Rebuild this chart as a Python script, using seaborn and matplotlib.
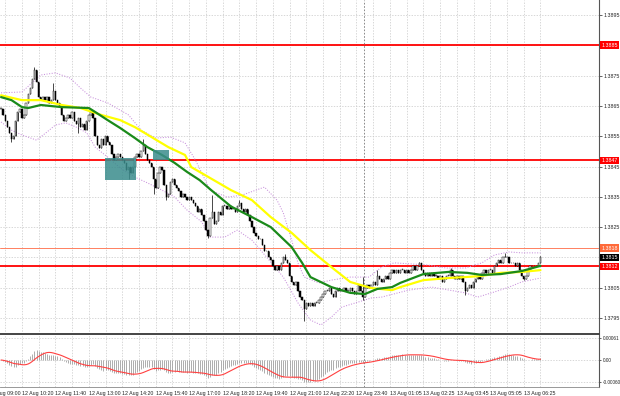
import matplotlib
matplotlib.use('Agg')
import matplotlib.pyplot as plt
import matplotlib.transforms as mtransforms
import numpy as np
import pandas as pd
import seaborn as sns

# M5 closes, in pips above 1.3800 (12 Aug 09:30 -> 13 Aug 07:05)
close_pips = [
    64, 62, 60, 58, 56, 54, 55, 60, 63, 64,
    61, 62, 66, 69, 71, 74, 77, 73, 68, 67,
    68, 67, 68, 66, 67, 70, 67, 66, 65, 62,
    60, 61, 62, 61, 63, 60, 59, 61, 58, 59,
    57, 60, 62, 63, 61, 55, 52, 51, 54, 52,
    55, 53, 52, 49, 47, 48, 49, 48, 47, 46,
    44, 45, 43, 45, 48, 49, 48, 50, 52, 49,
    47, 46, 45, 41, 38, 43, 45, 44, 39, 35,
    36, 40, 41, 39, 38, 37, 35, 36, 35, 34,
    35, 34, 33, 32, 30, 31, 29, 27, 24, 22,
    28, 30, 26, 27, 30, 29, 32, 32, 31, 32,
    31, 31, 30, 32, 33, 31, 30, 31, 29, 27,
    25, 23, 22, 21, 21, 19, 17, 17, 15, 14,
    12, 11, 12, 11, 13, 15, 14, 13, 9, 7,
    6, 7, 4, 2, 1, -2, 0, -1, 0, -1,
    0, 0, 1, 2, 3, 4, 4, 5, 3, 2,
    4, 5, 4, 4, 5, 4, 4, 5, 4, 3,
    4, 6, 4, 2, 5, 6, 5, 6, 7, 6,
    9, 8, 7, 8, 9, 8, 10, 11, 10, 11,
    10, 11, 11, 10, 11, 10, 11, 12, 11, 12,
    13, 11, 10, 9, 10, 9, 10, 9, 9, 8,
    9, 7, 8, 9, 9, 11, 9, 8, 9, 8,
    9, 7, 4, 5, 6, 5, 7, 8, 9, 8,
    10, 11, 10, 11, 11, 10, 12, 13, 14, 13,
    15, 15, 15, 13, 13, 13, 12, 13, 11, 9,
    8, 9, 11, 12, 12, 12, 12, 13, 15,
]
wick_high = {16: 78, 25: 72.5, 68: 54, 101: 35.5, 114: 34, 136: 16, 173: 8.5,
             180: 11, 200: 13.5, 215: 11.5, 241: 16.5, 258: 15.5}
wick_low = {5: 53, 37: 56, 61: 41, 73: 36, 79: 34, 99: 21.5, 145: -6, 173: 1,
            222: 2.5, 250: 7.5}

# moving averages / bands (candle index, pips)
green_idx = [0, 5, 10, 13, 19, 29, 42, 45, 51, 57, 64, 70, 77, 83, 89, 95, 100, 110,
             120, 129, 139, 144, 148, 158, 167, 174, 180, 187, 191, 202, 214, 223,
             230, 239, 249, 258]
green_pips = [67.9, 66.9, 64.6, 64.3, 65.3, 64.6, 64.3, 63.0, 60.3, 57.7, 54.4, 51.4,
              48.8, 46.2, 43.2, 40.5, 37.5, 31.8, 28.3, 25.0, 18.4, 13.2, 8.5, 5.2,
              3.3, 2.9, 4.6, 5.2, 6.6, 9.5, 10.2, 9.9, 9.2, 9.5, 10.5, 12.2]
yellow_idx = [0, 10, 19, 29, 38, 48, 57, 64, 72, 80, 88, 91, 100, 110, 120, 129, 139,
              148, 158, 167, 177, 187, 191, 202, 214, 222, 230, 239, 249, 258]
yellow_pips = [68.5, 66.9, 66.9, 65.3, 64.3, 62.0, 60.3, 58.0, 54.7, 51.4, 48.8, 44.8,
               41.2, 37.2, 33.9, 28.3, 23.1, 17.4, 11.8, 6.9, 4.9, 4.2, 5.2, 7.5,
               8.2, 8.5, 8.9, 9.9, 10.2, 10.8]
bb_up_idx = [0, 10, 19, 26, 33, 38, 43, 51, 61, 67, 74, 81, 88, 93, 100, 108, 115,
             126, 132, 135, 139, 142, 145, 152, 158, 167, 176, 182, 188, 204, 213,
             222, 230, 236, 243, 249, 258]
bb_up_pips = [69.3, 69.6, 75.2, 75.9, 74.2, 70.9, 67.9, 66.0, 62.0, 57.0, 54.4, 54.7,
              52.8, 47.1, 37.2, 34.9, 35.5, 38.2, 33.9, 29.7, 20.7, 13.2, 8.5, 6.6,
              7.5, 8.5, 8.5, 11.8, 13.2, 12.5, 11.5, 11.5, 13.2, 15.8, 16.8, 16.5,
              16.5]
bb_lo_idx = [0, 5, 10, 17, 22, 26, 31, 36, 41, 45, 51, 57, 64, 70, 77, 83, 89, 96,
             100, 107, 113, 120, 127, 135, 142, 148, 153, 158, 163, 171, 177, 182,
             195, 206, 222, 228, 236, 243, 249, 258]
bb_lo_pips = [59.7, 57.0, 55.4, 53.7, 56.4, 58.7, 59.4, 58.0, 56.1, 51.4, 48.1, 44.5,
              41.5, 39.6, 37.2, 34.9, 30.6, 26.7, 21.7, 21.7, 24.0, 20.7, 15.1, 8.5,
              0.0, -5.7, -7.3, -4.7, -1.4, 0.3, 1.6, 1.9, 4.2, 5.2, 3.3, 1.9, 3.6,
              5.2, 6.9, 8.2]

red_levels = [1.3885, 1.3847, 1.3812]
orange_level = 1.3818
current_price = 1.3815
zones = [(50, 64, 1.38405, 1.38478), (73, 80, 1.38471, 1.38504)]
day_break = 173.5

time_ticks = [-6, 10, 26, 42, 58, 74, 90, 106, 122, 138, 154, 170, 186, 202, 218, 234, 250]
time_labels = ["12 Aug 09:00", "12 Aug 10:20", "12 Aug 11:40", "12 Aug 13:00",
               "12 Aug 14:20", "12 Aug 15:40", "12 Aug 17:00", "12 Aug 18:20",
               "12 Aug 19:40", "12 Aug 21:00", "12 Aug 22:20", "12 Aug 23:40",
               "13 Aug 01:05", "13 Aug 02:25", "13 Aug 03:45", "13 Aug 05:05",
               "13 Aug 06:25"]

sns.set_style('white')
plt.rcParams['font.family'] = ['Liberation Sans Narrow', 'Liberation Sans', 'DejaVu Sans']
FS = 3.8

to_price = lambda v: 1.38 + np.asarray(v, dtype=float) / 10000.0

df = pd.DataFrame({'close': to_price(close_pips)})
df['idx'] = np.arange(len(df))
df['open'] = df['close'].shift(1).fillna(df['close'])
df['high'] = df[['open', 'close']].max(axis=1)
df['low'] = df[['open', 'close']].min(axis=1)
for k, v in wick_high.items():
    df.loc[k, 'high'] = max(df.loc[k, 'high'], float(to_price(v)))
for k, v in wick_low.items():
    df.loc[k, 'low'] = min(df.loc[k, 'low'], float(to_price(v)))

ema12 = df['close'].ewm(span=12, adjust=False).mean()
ema26 = df['close'].ewm(span=26, adjust=False).mean()
df['macd'] = ema12 - ema26
df['signal'] = df['macd'].rolling(9, min_periods=1).mean()

fig = plt.figure(figsize=(6.2, 3.96), dpi=100)
ax = fig.add_axes([0, 1 - 334 / 396, 599 / 620, 334 / 396])
axm = fig.add_axes([0, 9 / 396, 599 / 620, 52 / 396])

xlim = (-0.5, 286.0)
main_ylim = (1.378972, 1.389995)
macd_ylim = (-0.000736, 0.000681)
grid_kw = dict(color='#c8c8c8', linestyle=(0, (2, 2)), linewidth=0.5)
band_col = '#c890dc'

# ---- main panel
for lv in red_levels:
    ax.axhline(lv, color='#ff0000', lw=1.3, zorder=2)
ax.axhline(orange_level, color='#ff8060', lw=0.7, zorder=2)
ax.axvline(day_break, color='#777777', lw=0.6, linestyle=(0, (2, 2)), zorder=2)

sns.lineplot(x=bb_up_idx, y=to_price(bb_up_pips), ax=ax, color=band_col,
             lw=0.75, linestyle=(0, (1, 1.5)), zorder=3)
sns.lineplot(x=bb_lo_idx, y=to_price(bb_lo_pips), ax=ax, color=band_col,
             lw=0.75, linestyle=(0, (1, 1.5)), zorder=3)

# candles
ax.vlines(df['idx'], df['low'], df['high'], color='black', lw=0.5, zorder=4)
body_h = (df['close'] - df['open']).abs().clip(lower=0.000015)
body_b = df[['open', 'close']].min(axis=1)
up = df['close'] >= df['open']
ax.bar(df['idx'][up], body_h[up], bottom=body_b[up], width=0.65, color='white',
       edgecolor='black', linewidth=0.35, zorder=5)
ax.bar(df['idx'][~up], body_h[~up], bottom=body_b[~up], width=0.65, color='black',
       edgecolor='black', linewidth=0.35, zorder=5)

sns.lineplot(x=yellow_idx, y=to_price(yellow_pips), ax=ax, color='#ffff00', lw=1.6, zorder=6)
sns.lineplot(x=green_idx, y=to_price(green_pips), ax=ax, color='#1a8a1a', lw=1.6, zorder=7)

for x0, x1, lo, hi in zones:
    ax.add_patch(plt.Rectangle((x0 - 0.5, lo), x1 - x0 + 1, hi - lo,
                               facecolor='#3a8c8c', alpha=0.85, edgecolor='none', zorder=8))

yt = np.round(np.arange(1.3795, 1.38951, 0.001), 4)
ax.set_yticks(yt)
# labels hidden under the coloured price boxes are left blank
hidden = [round(v, 4) for v in red_levels + [current_price]]
ax.set_yticklabels(['' if round(v, 4) in hidden else f'{v:.4f}' for v in yt])
ax.yaxis.tick_right()
ax.tick_params(axis='y', labelsize=FS, length=2, width=0.5, pad=1.5, colors='#222222')
ax.set_xticks(time_ticks)
ax.set_xticks([t + 8 for t in time_ticks], minor=True)
ax.tick_params(axis='x', which='both', length=0, labelbottom=False)
ax.set_xlim(*xlim)
ax.set_ylim(*main_ylim)
ax.grid(True, which='both', **grid_kw)
ax.set_axisbelow(True)
for s in ['top', 'left']:
    ax.spines[s].set_visible(False)
ax.spines['right'].set_color('#555555')
ax.spines['right'].set_linewidth(0.8)
ax.spines['bottom'].set_color('#444444')
ax.spines['bottom'].set_linewidth(1.4)
ax.set_xlabel('')
ax.set_ylabel('')

trans = mtransforms.blended_transform_factory(ax.transAxes, ax.transData)
box_labels = [(lv, '#ff0000') for lv in red_levels] + [(orange_level, '#ff6a3a'),
                                                       (current_price, '#000000')]
for lv, col in box_labels:
    ax.text(1.004, lv, f'{lv:.4f}', transform=trans, fontsize=FS, color='white',
            va='center', ha='left', clip_on=False, zorder=10,
            bbox=dict(boxstyle='square,pad=0.25', fc=col, ec='none'))

# ---- MACD panel
axm.vlines(df['idx'], 0, df['macd'], color='#a0a0a0', lw=0.6, zorder=3)
sns.lineplot(x=df['idx'], y=df['signal'], ax=axm, color='#ff4040', lw=0.8, zorder=4)
axm.axvline(day_break, color='#777777', lw=0.6, linestyle=(0, (2, 2)), zorder=2)
axm.set_yticks([0.00061, 0.0, -0.0006])
axm.set_yticklabels(['0.00061', '0.00', '-0.00060'])
axm.yaxis.tick_right()
axm.tick_params(axis='y', labelsize=3.4, length=1.5, width=0.5, pad=1, colors='#222222')
axm.set_xticks(time_ticks)
axm.set_xticklabels(time_labels, ha='left')
axm.set_xticks([t + 8 for t in time_ticks], minor=True)
axm.tick_params(axis='x', which='major', labelsize=FS, length=2, width=0.5, pad=1,
                colors='#222222')
axm.tick_params(axis='x', which='minor', length=0)
axm.set_xlim(*xlim)
axm.set_ylim(*macd_ylim)
axm.grid(True, which='both', **grid_kw)
axm.set_axisbelow(True)
for s in ['top', 'left']:
    axm.spines[s].set_visible(False)
axm.spines['right'].set_color('#555555')
axm.spines['right'].set_linewidth(0.8)
axm.spines['bottom'].set_color('#888888')
axm.spines['bottom'].set_linewidth(0.6)
axm.set_xlabel('')
axm.set_ylabel('')

# the first time label starts left of the plot and is cut by the figure edge
first_trans = mtransforms.blended_transform_factory(axm.transData, axm.transAxes)
first_trans = first_trans + mtransforms.ScaledTranslation(0, -3 / 72, fig.dpi_scale_trans)
axm.text(time_ticks[0], 0, time_labels[0], transform=first_trans, fontsize=FS,
         color='#222222', ha='left', va='top', clip_on=False)

fig.savefig('out.png', dpi=100)
